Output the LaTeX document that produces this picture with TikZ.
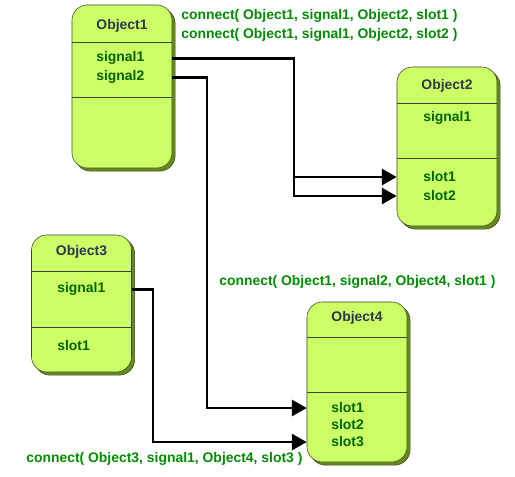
\documentclass[tikz,border=0pt]{standalone}
\usepackage{fontspec}
\setmainfont{Liberation Sans}
\usepackage{xcolor}
\usepackage{tikz}
\usetikzlibrary{arrows.meta,shadows}
\definecolor{boxfill}{RGB}{204,255,102}
\definecolor{boxline}{RGB}{60,70,50}
\definecolor{shadowcol}{RGB}{100,140,20}
\definecolor{titlecol}{RGB}{45,55,75}
\definecolor{itemcol}{RGB}{0,100,0}
\definecolor{conncol}{RGB}{0,140,0}

\begin{document}
\begin{tikzpicture}[x=0.025cm, y=-0.025cm,
  objbox/.style={rectangle, rounded corners=11pt, draw=boxline, fill=boxfill, thin,
                 minimum width=2.5cm, minimum height=#1,
                 drop shadow={shadow xshift=2.2pt, shadow yshift=-2.2pt, fill=shadowcol,
                              draw=black!75, opacity=1}},
  txt/.style={font=\bfseries\fontsize{9.9}{11}\selectfont, inner sep=0pt},
  title/.style={txt, text=titlecol, anchor=base},
  item/.style={txt, text=itemcol, anchor=base west},
  conn/.style={txt, text=conncol, anchor=base west},
  sep/.style={draw=boxline, thin},
  wire/.style={line width=1.9pt, -{Triangle[length=0.37cm, width=0.4cm]}}
]
  \useasboundingbox (0,0) rectangle (515,477);

  % Object1
  \node[objbox=4.075cm] (o1) at (122,86.5) {};
  \draw[sep] (o1.west |- 0,42) -- (o1.east |- 0,42);
  \draw[sep] (o1.west |- 0,97) -- (o1.east |- 0,97);
  \node[title] (t1) at (122,30) {Object1};
  \node[item] (sg11) at (96,62) {signal1};
  \node[item] (sg12) at (96,81) {signal2};

  % Object2
  \node[objbox=3.975cm] (o2) at (447,146.5) {};
  \draw[sep] (o2.west |- 0,103) -- (o2.east |- 0,103);
  \draw[sep] (o2.west |- 0,158) -- (o2.east |- 0,158);
  \node[title] (t2) at (447,90) {Object2};
  \node[item] (sg21) at (423,122) {signal1};
  \node[item] (sl21) at (423,182) {slot1};
  \node[item] (sl22) at (423,201) {slot2};

  % Object3
  \node[objbox=3.425cm] (o3) at (81.5,303.5) {};
  \draw[sep] (o3.west |- 0,271) -- (o3.east |- 0,271);
  \draw[sep] (o3.west |- 0,327) -- (o3.east |- 0,327);
  \node[title] (t3) at (81.5,256) {Object3};
  \node[item] (sg31) at (57,293) {signal1};
  \node[item] (sl31) at (57,351) {slot1};

  % Object4
  \node[objbox=4.0cm] (o4) at (357,382) {};
  \draw[sep] (o4.west |- 0,337) -- (o4.east |- 0,337);
  \draw[sep] (o4.west |- 0,392) -- (o4.east |- 0,392);
  \node[title] (t4) at (357,322) {Object4};
  \node[item] (sl41) at (331,413) {slot1};
  \node[item] (sl42) at (331,430) {slot2};
  \node[item] (sl43) at (331,447) {slot3};

  % Bend columns
  \coordinate (b1) at (294,0);
  \coordinate (b2) at (207,0);
  \coordinate (b3) at (153,0);

  % Wires
  \draw[wire] (o1.east |- sg11) -| (b1 |- sl22) -- (o2.west |- sl22);
  \draw[wire] (b1 |- sl21) -- (o2.west |- sl21);
  \draw[wire] (o1.east |- sg12) -| (b2 |- sl41) -- (o4.west |- sl41);
  \draw[wire] (o3.east |- sg31) -| (b3 |- sl43) -- (o4.west |- sl43);

  % Connect labels
  \node[conn] (c1) at (181,20) {connect( Object1, signal1, Object2, slot1 )};
  \node[conn] (c2) at (181,39) {connect( Object1, signal1, Object2, slot2 )};
  \node[conn] (c3) at (219,286) {connect( Object1, signal2, Object4, slot1 )};
  \node[conn] (c4) at (26,463) {connect( Object3, signal1, Object4, slot3 )};

\end{tikzpicture}
\end{document}
